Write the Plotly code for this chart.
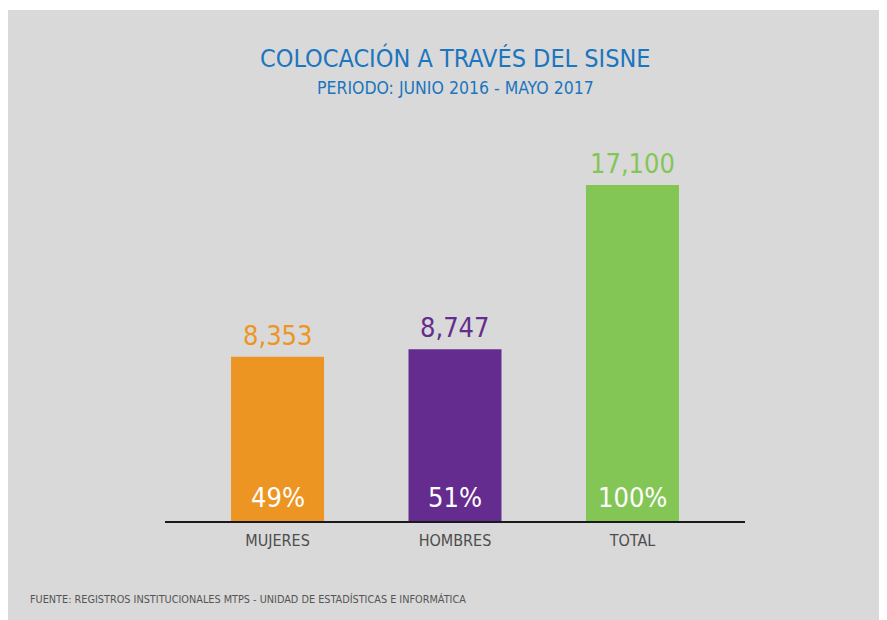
import plotly.graph_objects as go

categories = ["MUJERES", "HOMBRES", "TOTAL"]
values = [8353, 8747, 17100]
percents = ["49%", "51%", "100%"]
bar_colors = ["#ED9523", "#652C8F", "#84C655"]

title = "COLOCACIÓN A TRAVÉS DEL SISNE"
subtitle = "PERIODO: JUNIO 2016 - MAYO 2017"
source = "FUENTE: REGISTROS INSTITUCIONALES MTPS - UNIDAD DE ESTADÍSTICAS E INFORMÁTICA"

FONT = "DejaVu Sans Condensed, Liberation Sans Narrow, Arial Narrow, sans-serif"

W, H = 887, 612
L, R, T, B = 157, 150, 122, 99
pw, ph = W - L - R, H - T - B


def px_x(x):
    return (x - L) / pw


def px_y(y):
    return (T + ph - y) / ph


fig = go.Figure()
fig.add_trace(go.Bar(
    x=categories, y=values, marker=dict(color=bar_colors, line=dict(width=0)),
    width=0.524, hoverinfo="skip",
))

for c, v, p, col in zip(categories, values, percents, bar_colors):
    fig.add_annotation(x=c, y=v, text=f"{v:,}", showarrow=False, yanchor="bottom",
                       yshift=4, font=dict(family=FONT, size=27, color=col))
    fig.add_annotation(x=c, y=0, text=p, showarrow=False, yanchor="bottom",
                       yshift=6, font=dict(family=FONT, size=27, color="white"))

fig.add_annotation(x=px_x(447), y=px_y(50), xref="paper", yref="paper",
                   text=title, showarrow=False, xanchor="center", yanchor="middle",
                   font=dict(family=FONT, size=25, color="#1B75BF"))
fig.add_annotation(x=px_x(447), y=px_y(80), xref="paper", yref="paper",
                   text=subtitle, showarrow=False, xanchor="center", yanchor="middle",
                   font=dict(family=FONT, size=17.5, color="#1B75BF"))
fig.add_annotation(x=px_x(20), y=px_y(591), xref="paper", yref="paper",
                   text=source, showarrow=False, xanchor="left", yanchor="middle",
                   font=dict(family=FONT, size=10.8, color="#555555"))

fig.add_shape(type="rect", xref="paper", yref="paper",
              x0=px_x(0), x1=px_x(877), y0=px_y(H), y1=px_y(2),
              fillcolor="#D9D9D9", line=dict(width=0), layer="below")

fig.update_layout(
    width=W, height=H, margin=dict(l=L, r=R, t=T, b=B),
    paper_bgcolor="white", plot_bgcolor="rgba(0,0,0,0)",
    showlegend=False,
    xaxis=dict(range=[-0.634, 2.634], showline=True, linecolor="#1a1a1a", linewidth=2,
               ticks="", showgrid=False, zeroline=False, ticklabelstandoff=4,
               tickfont=dict(family=FONT, size=16, color="#4D4D4D")),
    yaxis=dict(range=[0, 19899], visible=False, showgrid=False, zeroline=False),
)

fig.write_html("out.html")
